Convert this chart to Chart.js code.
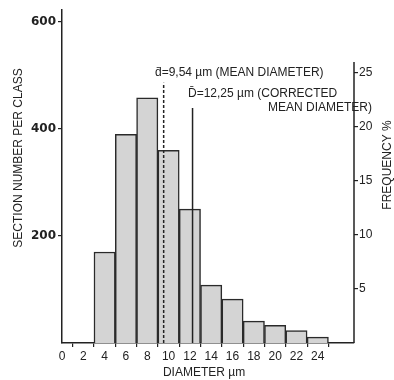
<!DOCTYPE html>
<html>
<head>
<meta charset="utf-8">
<script src="https://cdn.jsdelivr.net/npm/chart.js@4/dist/chart.umd.min.js"></script>
<style>
  body { margin: 0; background: #fff; }
  canvas { display: block; }
</style>
</head>
<body>
<canvas id="grafico" width="394" height="380"></canvas>
<script>
// Histogram of section diameters (classes of 2 µm, centred on even values)
const CENTROS = [4, 6, 8, 10, 12, 14, 16, 18, 20, 22, 24];
const CONTAGEM = [170, 390, 458, 360, 250, 108, 82, 41, 33, 23, 11];

const TICKS_X = [0, 2, 4, 6, 8, 10, 12, 14, 16, 18, 20, 22, 24];
const TICKS_Y = [200, 400, 600];
const TICKS_FREQ = [5, 10, 15, 20, 25];

// mean diameters and the heights of their marker lines (in section counts)
const D_MEDIO = 9.54;
const D_MEDIO_TOPO = 486;
const D_CORRIGIDO = 12.25;
const D_CORRIGIDO_TOPO = 439;

const TINTA = '#222';
const FONTE = '"Liberation Sans", Arial, sans-serif';

const textos = {
  id: 'textos',
  afterDraw(chart) {
    const { ctx, scales } = chart;
    ctx.save();
    ctx.fillStyle = TINTA;
    ctx.textBaseline = 'middle';

    // right axis line stops at 26 %
    ctx.strokeStyle = TINTA;
    ctx.lineWidth = 1.5;
    const xr = scales.y2.left;
    ctx.beginPath();
    ctx.moveTo(xr, scales.y2.getPixelForValue(0));
    ctx.lineTo(xr, scales.y2.getPixelForValue(26));
    ctx.stroke();

    ctx.font = '12px ' + FONTE;
    ctx.textAlign = 'left';
    ctx.fillText('d\u0304=9,54 \u00b5m (MEAN DIAMETER)', 155, 73);
    ctx.fillText('D\u0304=12,25 \u00b5m (CORRECTED', 188, 94);
    ctx.fillText('MEAN DIAMETER)', 268, 108);

    ctx.textAlign = 'center';
    ctx.fillText('DIAMETER \u00b5m', 204, 373);

    ctx.save();
    ctx.translate(19, 158);
    ctx.rotate(-Math.PI / 2);
    ctx.fillText('SECTION NUMBER PER CLASS', 0, 0);
    ctx.restore();

    ctx.save();
    ctx.translate(388, 165);
    ctx.rotate(-Math.PI / 2);
    ctx.fillText('FREQUENCY %', 0, 0);
    ctx.restore();

    ctx.restore();
  }
};

new Chart(document.getElementById('grafico'), {
  type: 'bar',
  data: {
    datasets: [
      {
        type: 'bar',
        data: CENTROS.map((x, i) => ({ x, y: CONTAGEM[i] })),
        backgroundColor: '#d4d4d4',
        borderColor: '#2a2a2a',
        borderWidth: 1.5,
        barPercentage: 1,
        categoryPercentage: 1,
        order: 2
      },
      {
        type: 'line',
        data: [{ x: D_MEDIO, y: 0 }, { x: D_MEDIO, y: D_MEDIO_TOPO }],
        borderColor: TINTA,
        borderWidth: 1.5,
        borderDash: [3, 2],
        pointRadius: 0,
        order: 1
      },
      {
        type: 'line',
        data: [{ x: D_CORRIGIDO, y: 0 }, { x: D_CORRIGIDO, y: D_CORRIGIDO_TOPO }],
        borderColor: TINTA,
        borderWidth: 1.5,
        pointRadius: 0,
        order: 1
      }
    ]
  },
  options: {
    responsive: false,
    animation: false,
    devicePixelRatio: 1,
    layout: { padding: { top: 10, left: 0, right: 0, bottom: 0 } },
    plugins: { legend: { display: false }, tooltip: { enabled: false } },
    scales: {
      x: {
        type: 'linear',
        min: 0,
        max: 27.4,
        offset: false,
        afterFit: (s) => { s.height = 37; },
        afterBuildTicks: (s) => { s.ticks = TICKS_X.map((v) => ({ value: v })); },
        border: { color: TINTA, width: 1.5 },
        grid: { drawOnChartArea: false, tickLength: 4, color: TINTA, lineWidth: 1.2 },
        ticks: { color: TINTA, font: { family: FONTE, size: 12 }, padding: 2, maxRotation: 0, autoSkip: false }
      },
      y: {
        position: 'left',
        min: 0,
        max: 622,
        afterFit: (s) => { s.width = 62; },
        afterBuildTicks: (s) => { s.ticks = TICKS_Y.map((v) => ({ value: v })); },
        border: { color: TINTA, width: 1.5 },
        grid: { drawOnChartArea: false, tickLength: 4, color: TINTA, lineWidth: 1.2 },
        ticks: { color: TINTA, font: { family: '"DejaVu Sans"', size: 12, weight: 'bold' }, padding: 2 }
      },
      y2: {
        position: 'right',
        min: 0,
        max: 30.8,
        afterFit: (s) => { s.width = 40; },
        afterBuildTicks: (s) => { s.ticks = TICKS_FREQ.map((v) => ({ value: v })); },
        border: { display: false },
        grid: { drawOnChartArea: false, tickLength: 4, color: TINTA, lineWidth: 1.2 },
        ticks: { color: TINTA, font: { family: FONTE, size: 12 }, padding: 1 }
      }
    }
  },
  plugins: [textos]
});
</script>
</body>
</html>
